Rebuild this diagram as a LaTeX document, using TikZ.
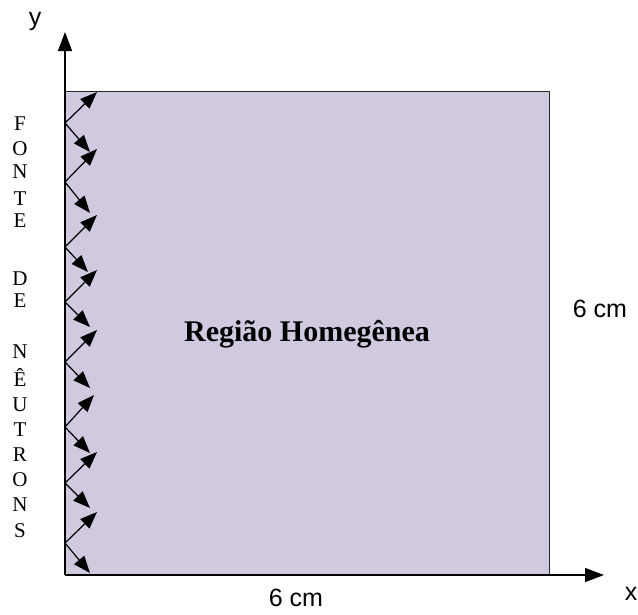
\documentclass[tikz,border=0pt]{standalone}
\usepackage{fontspec}
\setmainfont{Liberation Serif}
\newfontfamily\arialf{Liberation Sans}
\usetikzlibrary{arrows.meta}
\definecolor{regionfill}{RGB}{209,201,223}
\begin{document}
\begin{tikzpicture}[x=1pt,y=-1pt,
  axis/.style={line width=1.4pt,-{Triangle[length=19pt,width=14pt]}},
  neutron/.style={line width=1.2pt,-{Triangle[length=17pt,width=13pt]}},
  letter/.style={font=\fontsize{21}{21}\selectfont, inner sep=0pt, anchor=base},
  dim/.style={font=\arialf\fontsize{25}{25}\selectfont, inner sep=0pt},
  regionbox/.style={draw=black!85, line width=1.4pt, fill=regionfill, minimum width=484pt, minimum height=484pt, inner sep=0pt, anchor=north west}]
\useasboundingbox (0,0) rectangle (638,614);
\node[regionbox] (region) at (65,91) {};
\node[font=\bfseries\fontsize{30}{30}\selectfont, inner sep=0pt, anchor=base] (title) at (307,341) {Região Homegênea};
% axes
\coordinate (O) at (65,575);
\coordinate (ytip) at (65,32);
\coordinate (xtip) at (604,575);
\draw[axis] (O) -- (ytip);
\draw[axis] (O) -- (xtip);
\node[dim] (ylab) at (35,21) {y};
\node[dim] (xlab) at (631,594) {x};
\node[dim] (wlab) at (296,598) {6 cm};
\node[dim] (hlab) at (600,309) {6 cm};
% neutron source arrows
\foreach \i/\ys/\xu/\yu/\xd/\yd in {1/123/97/92/90/152, 2/182/97/149/90/213, 3/247/97/215/88/272, 4/302/97/270/90/327, 5/362/97/330/90/388, 6/427/94/395/90/453, 7/483/97/452/90/508, 8/543/97/512/90/573}{
  \coordinate (s\i) at (65,\ys);
  \coordinate (u\i) at (\xu,\yu);
  \coordinate (d\i) at (\xd,\yd);
  \draw[neutron] (s\i) -- (u\i);
  \draw[neutron] (s\i) -- (d\i);
}
% vertical label
\foreach \j/\c/\yb in {1/F/130, 2/O/155, 3/N/178, 4/T/205, 5/E/227, 6/D/285, 7/E/307, 8/N/358, 9/Ê/386, 10/U/411, 11/T/436, 12/R/461, 13/O/486, 14/N/511, 15/S/537}{
  \node[letter] (l\j) at (20,\yb) {\c};
}
\end{tikzpicture}
\end{document}
